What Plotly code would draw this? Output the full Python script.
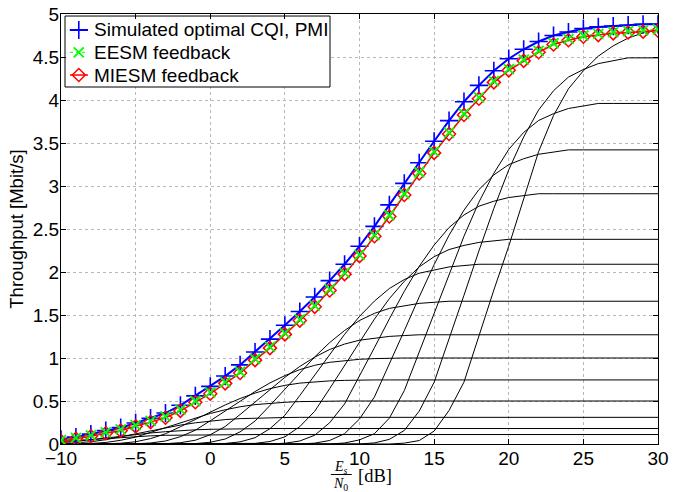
import plotly.graph_objects as go

# ---------------- data ----------------
snr_db = list(range(-10, 31))

simulated_opt = [0.055, 0.08, 0.115, 0.155, 0.19, 0.245, 0.30, 0.36, 0.45, 0.56, 0.67,
                 0.79, 0.92, 1.07, 1.22, 1.38, 1.54, 1.71, 1.90, 2.09, 2.30,
                 2.53, 2.78, 3.03, 3.27, 3.52, 3.76, 3.98, 4.17, 4.34, 4.48,
                 4.59, 4.68, 4.75, 4.79, 4.83, 4.85, 4.86, 4.87, 4.88, 4.88]

eesm_fb = [0.045, 0.07, 0.10, 0.135, 0.17, 0.22, 0.27, 0.32, 0.40, 0.50, 0.60,
           0.72, 0.84, 0.99, 1.13, 1.29, 1.45, 1.61, 1.80, 1.99, 2.20,
           2.43, 2.66, 2.91, 3.16, 3.40, 3.62, 3.84, 4.03, 4.22, 4.36,
           4.47, 4.57, 4.66, 4.71, 4.75, 4.77, 4.79, 4.80, 4.81, 4.82]

miesm_fb = [0.035, 0.06, 0.09, 0.125, 0.155, 0.205, 0.255, 0.305, 0.385, 0.485, 0.585,
            0.705, 0.825, 0.975, 1.115, 1.275, 1.435, 1.595, 1.785, 1.975, 2.185,
            2.415, 2.645, 2.895, 3.145, 3.385, 3.605, 3.825, 4.015, 4.205, 4.345,
            4.455, 4.555, 4.645, 4.695, 4.735, 4.755, 4.775, 4.785, 4.795, 4.805]

# per-CQI throughput curves (x = snr_db)
cqi_01 = [0.030, 0.042, 0.055, 0.067, 0.078, 0.087, 0.095, 0.101, 0.104, 0.107, 0.108,
          0.109] + [0.11] * 29
cqi_02 = [0.015, 0.029, 0.049, 0.069, 0.090, 0.110, 0.128, 0.143, 0.156, 0.165, 0.171,
          0.175, 0.177, 0.179] + [0.18] * 27
cqi_03 = [0.004, 0.011, 0.026, 0.050, 0.084, 0.119, 0.155, 0.189, 0.220, 0.246, 0.268,
          0.284, 0.295, 0.301, 0.305, 0.308] + [0.31] * 25
cqi_04 = [0.0, 0.002, 0.006, 0.018, 0.043, 0.080, 0.135, 0.193, 0.250, 0.305, 0.355,
          0.398, 0.433, 0.458, 0.475, 0.485, 0.493, 0.497] + [0.50] * 23
cqi_05 = [0.0, 0.0, 0.0, 0.002, 0.009, 0.026, 0.063, 0.119, 0.201, 0.287, 0.373,
          0.454, 0.529, 0.592, 0.644, 0.682, 0.708, 0.723, 0.734, 0.740] + [0.745] * 21
cqi_06 = [0.0] * 5 + [0.003, 0.012, 0.035, 0.085, 0.160, 0.270,
                      0.385, 0.500, 0.610, 0.710, 0.795, 0.865, 0.915, 0.950, 0.970, 0.985,
                      0.993] + [1.0] * 19
cqi_07 = [0.0] * 7 + [0.004, 0.015, 0.044, 0.108,
                      0.203, 0.343, 0.489, 0.635, 0.775, 0.902, 1.010, 1.099, 1.162, 1.207,
                      1.232, 1.251, 1.261] + [1.27] * 17
cqi_08 = [0.0] * 9 + [0.005, 0.020,
                      0.058, 0.141, 0.266, 0.448, 0.639, 0.830, 1.013, 1.179, 1.320, 1.436,
                      1.519, 1.577, 1.610, 1.635, 1.648] + [1.66] * 15
cqi_09 = [0.0] * 11 + [0.006, 0.025, 0.073, 0.178, 0.334, 0.564, 0.805, 1.045, 1.275, 1.484,
                       1.662, 1.808, 1.912, 1.986, 2.027, 2.059, 2.075] + [2.09] * 13
cqi_10 = [0.0] * 13 + [0.007, 0.029, 0.083, 0.202, 0.381, 0.643, 0.916, 1.190,
                       1.452, 1.690, 1.892, 2.059, 2.178, 2.261, 2.309, 2.344, 2.363] + [2.38] * 11
cqi_11 = [0.0] * 15 + [0.009, 0.035, 0.102, 0.247, 0.466, 0.786,
                       1.120, 1.455, 1.775, 2.066, 2.313, 2.517, 2.663, 2.765, 2.823, 2.866,
                       2.890] + [2.91] * 9
cqi_12 = [0.0] * 17 + [0.010, 0.041, 0.120, 0.291,
                       0.547, 0.923, 1.317, 1.710, 2.086, 2.428, 2.719, 2.958, 3.129, 3.249,
                       3.317, 3.369, 3.396] + [3.42] * 7
cqi_13 = [0.0] * 19 + [0.012, 0.048,
                       0.120, 0.300, 0.620, 1.069, 1.525, 1.980, 2.416, 2.812, 3.148, 3.425,
                       3.623, 3.762, 3.841, 3.901, 3.932] + [3.96] * 5
cqi_14 = [0.0] * 21 + [0.013, 0.054, 0.157, 0.382, 0.718, 1.212, 1.729, 2.245, 2.739, 3.188,
                       3.570, 3.884, 4.108, 4.266, 4.355, 4.423, 4.459] + [4.49] * 3
cqi_15 = [0.0] * 23 + [0.010, 0.040, 0.150, 0.390, 0.720, 1.260, 1.790, 2.300,
                       2.860, 3.400, 3.820, 4.130, 4.340, 4.510, 4.630, 4.720, 4.780, 4.820]

cqi_curves = [cqi_01, cqi_02, cqi_03, cqi_04, cqi_05, cqi_06, cqi_07, cqi_08,
              cqi_09, cqi_10, cqi_11, cqi_12, cqi_13, cqi_14, cqi_15]

x_ticks = [-10, -5, 0, 5, 10, 15, 20, 25, 30]
y_ticks = [0, 0.5, 1, 1.5, 2, 2.5, 3, 3.5, 4, 4.5, 5]
y_tick_text = ["0", "0.5", "1", "1.5", "2", "2.5", "3", "3.5", "4", "4.5", "5"]

legend_names = ["Simulated optimal CQI, PMI", "EESM feedback", "MIESM feedback"]

# ---------------- styles ----------------
BLUE, GREEN, RED = "#0000ff", "#00ff00", "#ff0000"
SANS = "Liberation Sans, Arial, Helvetica, sans-serif"
SERIF = "Liberation Serif, Times New Roman, serif"

blue_marker = dict(symbol="cross-thin-open", size=13, color=BLUE,
                   line=dict(color=BLUE, width=1.6))
green_marker = dict(symbol="x-thin-open", size=10, color=GREEN,
                    line=dict(color=GREEN, width=1.8))
red_marker = dict(symbol="diamond-open", size=10, color=RED,
                  line=dict(color=RED, width=1.5))

fig = go.Figure()

for curve in cqi_curves:
    fig.add_trace(go.Scatter(x=snr_db, y=curve, mode="lines",
                             line=dict(color="black", width=1),
                             showlegend=False, hoverinfo="skip"))

fig.add_trace(go.Scatter(x=snr_db, y=simulated_opt, mode="lines+markers",
                         name=legend_names[0], showlegend=False,
                         line=dict(color=BLUE, width=2), marker=blue_marker))
fig.add_trace(go.Scatter(x=snr_db, y=miesm_fb, mode="lines+markers",
                         name=legend_names[2], showlegend=False,
                         line=dict(color=RED, width=1.5), marker=red_marker))
fig.add_trace(go.Scatter(x=snr_db, y=eesm_fb, mode="lines+markers",
                         name=legend_names[1], showlegend=False,
                         line=dict(color=GREEN, width=1, dash="dot"), marker=green_marker))

# ---------------- MATLAB-style legend (drawn on an overlay axis, 0..1 = plot area) ----------------
box_x0, box_x1, box_y0, box_y1 = 0.0067, 0.4506, 0.8302, 0.9953
row_y = [0.9628, 0.9109, 0.8581]
samp_x0, samp_xm, samp_x1 = 0.0151, 0.0298, 0.0452
text_x = 0.052

fig.add_trace(go.Scatter(x=[box_x0, box_x1, box_x1, box_x0, box_x0],
                         y=[box_y0, box_y0, box_y1, box_y1, box_y0],
                         xaxis="x2", yaxis="y2", mode="lines", fill="toself",
                         fillcolor="white", line=dict(color="black", width=1),
                         showlegend=False, hoverinfo="skip"))
legend_styles = [(dict(color=BLUE, width=2), blue_marker),
                 (dict(color=GREEN, width=1, dash="dot"), green_marker),
                 (dict(color=RED, width=1.5), red_marker)]
for ry, (lstyle, mstyle), name in zip(row_y, legend_styles, legend_names):
    fig.add_trace(go.Scatter(x=[samp_x0, samp_x1], y=[ry, ry], xaxis="x2", yaxis="y2",
                             mode="lines", line=lstyle, showlegend=False, hoverinfo="skip"))
    fig.add_trace(go.Scatter(x=[samp_xm], y=[ry], xaxis="x2", yaxis="y2",
                             mode="markers", marker=mstyle, showlegend=False,
                             hoverinfo="skip"))
    fig.add_annotation(text=name, xref="paper", yref="paper", x=text_x, y=ry,
                       xanchor="left", yanchor="middle", showarrow=False,
                       font=dict(family=SANS, size=19, color="black"))

axis_common = dict(
    showline=True, linecolor="black", linewidth=1, mirror="ticks",
    ticks="inside", ticklen=5, tickcolor="black",
    showgrid=True, gridcolor="#b8b8b8", griddash="dot", gridwidth=1,
    zeroline=False, automargin=False,
    tickfont=dict(family=SANS, size=19, color="black"),
)

fig.update_xaxes(range=[-10, 30], tickvals=x_ticks, ticklabelstandoff=-3, **axis_common)
fig.update_yaxes(range=[0, 5], tickvals=y_ticks, ticktext=y_tick_text,
                 ticklabelstandoff=-3,
                 title=dict(text="Throughput [Mbit/s]",
                            font=dict(family=SANS, size=18.5, color="black"),
                            standoff=4),
                 **axis_common)

fig.update_layout(
    xaxis2=dict(overlaying="x", range=[0, 1], visible=False, anchor="y2"),
    yaxis2=dict(overlaying="y", range=[0, 1], visible=False, anchor="x2"),
)

# x-axis title: Es/N0 [dB] written as a fraction
fig.add_annotation(text="<i>E<sub>s</sub></i>", xref="paper", yref="paper",
                   x=0.469, y=0, yshift=-23, xanchor="center", yanchor="middle",
                   showarrow=False, font=dict(family=SERIF, size=14, color="black"))
fig.add_annotation(text="<i>N</i><sub>0</sub>", xref="paper", yref="paper",
                   x=0.469, y=0, yshift=-40, xanchor="center", yanchor="middle",
                   showarrow=False, font=dict(family=SERIF, size=14, color="black"))
fig.add_annotation(text="[dB]", xref="paper", yref="paper",
                   x=0.526, y=0, yshift=-32, xanchor="center", yanchor="middle",
                   showarrow=False, font=dict(family=SERIF, size=18.5, color="black"))
fig.add_shape(type="line", xref="paper", yref="paper",
              x0=0.452, x1=0.487, y0=-0.0709, y1=-0.0709,
              line=dict(color="black", width=1))

fig.update_layout(
    width=679, height=492,
    margin=dict(l=61, r=21, t=14, b=48),
    paper_bgcolor="white", plot_bgcolor="white",
    font=dict(family=SANS, color="black"),
    showlegend=False,
)

fig.write_html("out.html", config={"displayModeBar": False},
               post_script="document.body.style.margin='0';")
